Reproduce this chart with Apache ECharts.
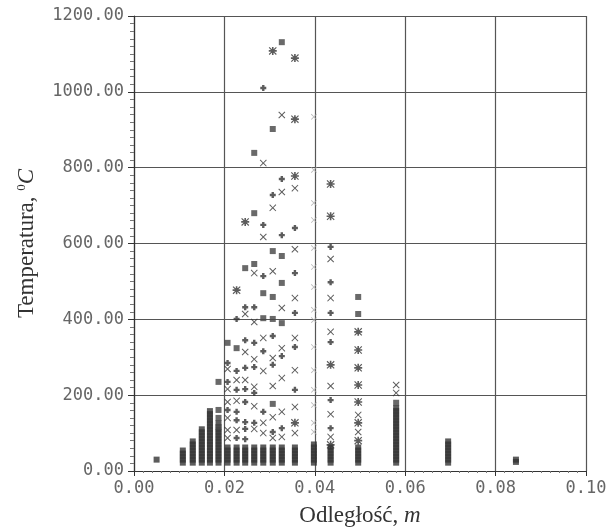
<!DOCTYPE html>
<html>
<head>
<meta charset="utf-8">
<script src="https://cdn.jsdelivr.net/npm/echarts@6/dist/echarts.min.js"></script>
<style>
  html, body { margin: 0; padding: 0; background: #fff; }
  #wykres { width: 611px; height: 532px; }
</style>
</head>
<body>
<div id="wykres"></div>
<script>
// odleglosci kolumn pomiarowych [m]
var kolumny = [0.005, 0.0108, 0.013, 0.015, 0.0168, 0.0187, 0.0207, 0.0227, 0.0246, 0.0266,
               0.0286, 0.0307, 0.0327, 0.0356, 0.0398, 0.0435, 0.0496, 0.058, 0.0695, 0.0845];

// gesto upakowane punkty przy dnie (temperatury w kolumnach)
var slupkiT = [
    [30],
    [22, 30, 38, 46, 54],
    [22, 30, 38, 46, 54, 62, 70, 78],
    [22, 30, 38, 46, 54, 62, 70, 78, 86, 94, 102, 110],
    [22, 30, 38, 46, 54, 62, 70, 78, 86, 94, 102, 110, 118, 126, 134, 142, 150, 158],
    [22, 30, 38, 46, 54, 62, 70, 78, 86, 94, 102, 110, 126],
    [22, 30, 38, 46, 54, 62],
    [22, 30, 38, 46, 54, 62],
    [22, 30, 38, 46, 54, 62],
    [22, 30, 38, 46, 54, 62],
    [22, 30, 38, 46, 54, 62],
    [22, 30, 38, 46, 54, 62],
    [22, 30, 38, 46, 54, 62],
    [22, 30, 38, 46, 54, 62],
    [22, 30, 38, 46, 54, 62, 70],
    [22, 30, 38, 46, 54, 62],
    [22, 30, 38, 46, 54, 62],
    [22, 30, 38, 46, 54, 62, 70, 78, 86, 94, 102, 110, 118, 126, 134, 142, 150, 158, 166],
    [22, 30, 38, 46, 54, 62, 70, 78],
    [24, 30]
];

var punktyX = [
    [0.0327, 939], [0.0286, 812], [0.0327, 736], [0.0356, 746], [0.0307, 694], [0.0286, 617],
    [0.0356, 585], [0.0435, 559], [0.0266, 522], [0.0307, 527], [0.0356, 456], [0.0435, 456],
    [0.0327, 430], [0.0246, 414], [0.0266, 393], [0.0286, 351], [0.0356, 351], [0.0435, 367],
    [0.0246, 314], [0.0307, 298], [0.0327, 324], [0.0266, 295], [0.0207, 269], [0.0286, 264],
    [0.0327, 245], [0.0356, 266], [0.0435, 224], [0.0227, 240], [0.0246, 240], [0.0207, 216],
    [0.0266, 222], [0.0307, 224], [0.0207, 182], [0.0227, 185], [0.0266, 171], [0.0327, 156],
    [0.0356, 169], [0.0435, 150], [0.0207, 140], [0.0286, 127], [0.0307, 142], [0.0207, 108],
    [0.0227, 108], [0.0266, 111], [0.0286, 100], [0.0356, 100], [0.0435, 90], [0.0496, 148],
    [0.0496, 103], [0.0307, 87], [0.0327, 90], [0.0207, 87], [0.058, 227], [0.058, 206]
];

var punktyPlus = [
    [0.0286, 1010], [0.0327, 770], [0.0307, 728], [0.0286, 649], [0.0356, 641], [0.0327, 622],
    [0.0435, 591], [0.0286, 514], [0.0356, 522], [0.0435, 498], [0.0246, 432], [0.0266, 432],
    [0.0356, 417], [0.0435, 417], [0.0227, 401], [0.0246, 345], [0.0266, 338], [0.0307, 356],
    [0.0356, 327], [0.0435, 340], [0.0286, 316], [0.0327, 303], [0.0207, 285], [0.0227, 264],
    [0.0246, 272], [0.0266, 274], [0.0307, 280], [0.0207, 235], [0.0227, 214], [0.0246, 216],
    [0.0266, 206], [0.0356, 214], [0.0435, 187], [0.0246, 182], [0.0207, 161], [0.0227, 156],
    [0.0286, 156], [0.0227, 134], [0.0246, 129], [0.0266, 127], [0.0435, 113], [0.0246, 111],
    [0.0307, 103], [0.0327, 113], [0.0227, 87], [0.0246, 84]
];

var punktyGwiazdka = [
    [0.0307, 1108], [0.0356, 1089], [0.0356, 928], [0.0356, 778], [0.0435, 757], [0.0246, 657],
    [0.0435, 672], [0.0227, 477], [0.0435, 280], [0.0496, 367], [0.0496, 319], [0.0496, 272],
    [0.0496, 227], [0.0496, 182], [0.0496, 127], [0.0496, 80], [0.0356, 127], [0.0435, 69]
];

var punktyKwadrat = [
    [0.0327, 1131], [0.0307, 902], [0.0266, 839], [0.0266, 680], [0.0307, 580], [0.0327, 567],
    [0.0246, 535], [0.0266, 546], [0.0327, 496], [0.0286, 469], [0.0307, 459], [0.0496, 459],
    [0.0496, 414], [0.0286, 403], [0.0307, 401], [0.0327, 390], [0.0207, 338], [0.0227, 324],
    [0.0307, 177], [0.0187, 235], [0.0187, 161], [0.0187, 140], [0.0187, 116], [0.058, 180]
];

// slabo widoczne punkty na linii 0.04
var punktyJasne = [
    [0.0398, 934], [0.0398, 794], [0.0398, 707], [0.0398, 662], [0.0398, 588], [0.0398, 538],
    [0.0398, 485], [0.0398, 425], [0.0398, 398], [0.0398, 327], [0.0398, 266], [0.0398, 214],
    [0.0398, 174], [0.0398, 127], [0.0398, 103]
];

var symX = 'path://M0,1L1,0L5,4L9,0L10,1L6,5L10,9L9,10L5,6L1,10L0,9L4,5Z';
var symPlus = 'path://M3,0H7V3H10V7H7V10H3V7H0V3H3Z';
var symStar = 'path://M0,1L1,0L5,4L9,0L10,1L6,5L10,9L9,10L5,6L1,10L0,9L4,5Z M4,0H6V10H4Z M0,4H10V6H0Z';

var slupki = [];
kolumny.forEach(function (x, i) {
    slupkiT[i].forEach(function (t) { slupki.push([x, t]); });
});

var dom = document.getElementById('wykres');
var myChart = echarts.init(dom);

var kolor = '#333';
var tickFont = { fontFamily: 'DejaVu Sans Mono', fontSize: 17, color: '#666' };

var option = {
    animation: false,
    backgroundColor: '#fff',
    grid: { left: 134, right: 25, top: 16, bottom: 61 },
    xAxis: {
        type: 'value',
        min: 0,
        max: 0.1,
        interval: 0.02,
        name: '{a|Odległość, }{i|m}',
        nameLocation: 'middle',
        nameGap: 33,
        nameTextStyle: {
            rich: {
                a: { fontFamily: 'Liberation Serif', fontSize: 23, color: '#333' },
                i: { fontFamily: 'Liberation Serif', fontSize: 23, fontStyle: 'italic', color: '#333' }
            }
        },
        axisLine: { lineStyle: { color: '#333', width: 1.2 } },
        axisTick: { length: 5, lineStyle: { color: '#333' } },
        minorTick: { show: true, splitNumber: 10, length: 2, lineStyle: { color: '#777' } },
        axisLabel: Object.assign({ margin: 9, formatter: function (v) { return v.toFixed(2); } }, tickFont),
        splitLine: { show: true, lineStyle: { color: '#555', width: 1.2 } }
    },
    yAxis: {
        type: 'value',
        min: 0,
        max: 1200,
        interval: 200,
        name: '{a|Temperatura, }{s|0}{i|C}',
        nameLocation: 'middle',
        nameGap: 96,
        nameTextStyle: {
            rich: {
                a: { fontFamily: 'Liberation Serif', fontSize: 23, color: '#333' },
                s: { fontFamily: 'Liberation Serif', fontSize: 13, color: '#333', verticalAlign: 'top' },
                i: { fontFamily: 'Liberation Serif', fontSize: 23, fontStyle: 'italic', color: '#333' }
            }
        },
        axisLine: { show: true, lineStyle: { color: '#333', width: 1.2 } },
        axisTick: { show: true, length: 6, lineStyle: { color: '#333' } },
        minorTick: { show: true, splitNumber: 10, length: 4, lineStyle: { color: '#777' } },
        axisLabel: Object.assign({ margin: 10, formatter: function (v) { return v.toFixed(2); } }, tickFont),
        splitLine: { show: true, lineStyle: { color: '#555', width: 1.2 } }
    },
    series: [
        {
            name: 'slupki',
            type: 'scatter',
            symbol: 'rect',
            symbolSize: [6, 6],
            itemStyle: { color: '#333' },
            data: slupki
        },
        {
            name: 'jasne',
            type: 'scatter',
            symbol: symX,
            symbolSize: 6,
            itemStyle: { color: '#aaa' },
            data: punktyJasne
        },
        {
            name: 'x',
            type: 'scatter',
            symbol: symX,
            symbolSize: 7,
            itemStyle: { color: kolor },
            data: punktyX
        },
        {
            name: 'plus',
            type: 'scatter',
            symbol: symPlus,
            symbolSize: 6,
            itemStyle: { color: kolor },
            data: punktyPlus
        },
        {
            name: 'gwiazdka',
            type: 'scatter',
            symbol: symStar,
            symbolSize: 8,
            itemStyle: { color: kolor },
            data: punktyGwiazdka
        },
        {
            name: 'kwadrat',
            type: 'scatter',
            symbol: 'rect',
            symbolSize: 6,
            itemStyle: { color: '#444' },
            data: punktyKwadrat
        }
    ]
};

if (option && typeof option === 'object') {
    myChart.setOption(option, true);
}
</script>
</body>
</html>
